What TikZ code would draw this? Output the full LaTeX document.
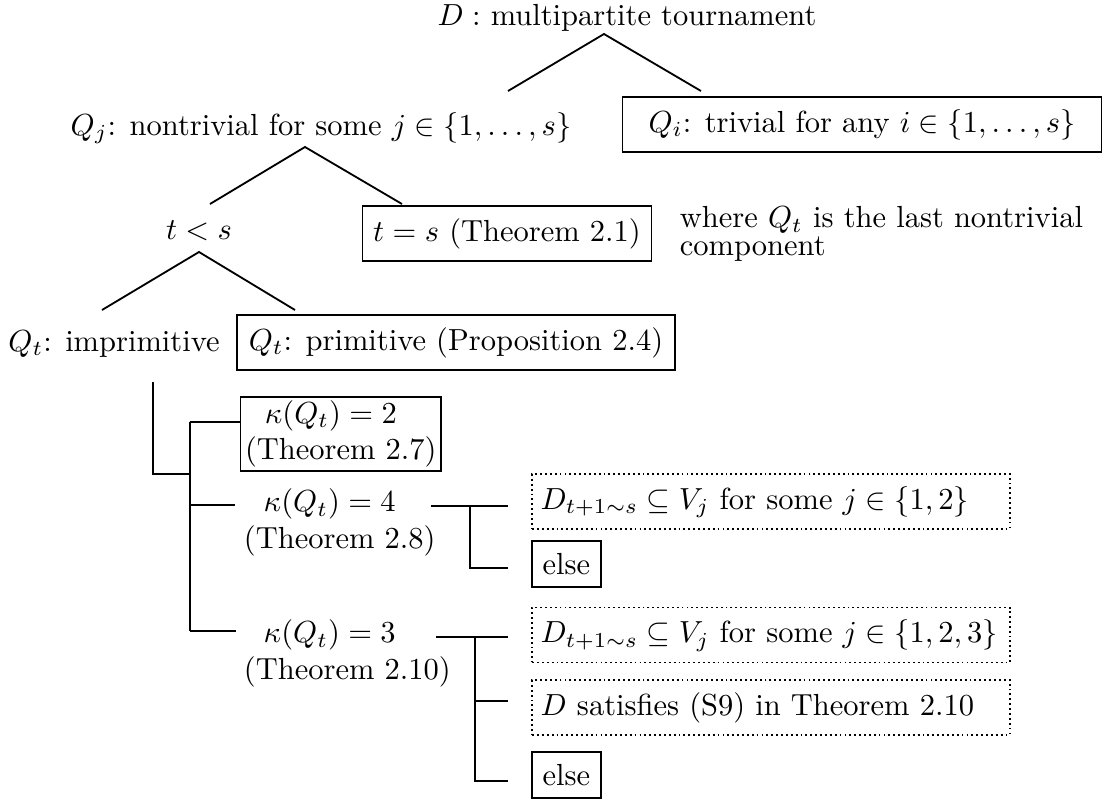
\documentclass[tikz,border=0pt]{standalone}
\usepackage{amsmath,amssymb}
\usepackage{tikz}

\tikzset{
  solidbox/.style={draw, line width=0.6pt, inner xsep=3.5pt, inner ysep=4pt},
  dotbox/.style={draw, densely dotted, line width=0.6pt, text width=151pt, align=left,
    inner xsep=2.8pt, inner ysep=4pt, text height=7.5pt, text depth=2.5pt},
  kbox/.style={align=left, inner xsep=1.5pt, inner ysep=1.2pt},
}

\begin{document}
\begin{tikzpicture}[x=1.1523cm, y=-1.1523cm, line width=0.6pt]
  \useasboundingbox (0,0) rectangle (11.07,8.03);

  % top levels
  \node[anchor=base] (root) at (6.27,0.255) {$D:$ multipartite tournament};
  \node[anchor=base] (nontriv) at (3.21,1.35) {$Q_j$: nontrivial for some $j\in\{1,\ldots,s\}$};
  \node[solidbox, inner xsep=8.5pt] (triv) at (8.62,1.245) {$Q_i$: trivial for any $i\in\{1,\ldots,s\}$};
  \node[anchor=base] (tless) at (1.99,2.39) {$t<s$};
  \node[solidbox] (teq) at (5.07,2.335) {$t=s$ (Theorem 2.1)};
  \node[anchor=north west, inner sep=0pt, align=left] (where) at (6.79,2.055)
    {where $Q_t$ is the last nontrivial\\[-3pt] component};
  \node[anchor=base] (imprim) at (1.14,3.51) {$Q_t$: imprimitive};
  \node[solidbox, inner xsep=3.8pt] (prim) at (4.56,3.425) {$Q_t$: primitive (Proposition 2.4)};

  % tree lines
  \coordinate (r0) at (6.04,0.34);
  \coordinate (r1) at (5.08,0.91);
  \coordinate (r2) at (7.01,0.91);
  \draw (r1) -- (r0) -- (r2);
  \coordinate (n0) at (3.05,1.47);
  \coordinate (n1) at (2.10,2.04);
  \coordinate (n2) at (4.02,2.04);
  \draw (n1) -- (n0) -- (n2);
  \coordinate (t0) at (1.99,2.52);
  \coordinate (t1) at (1.02,3.10);
  \coordinate (t2) at (2.95,3.10);
  \draw (t1) -- (t0) -- (t2);

  % kappa cases
  \node[draw, kbox] (k2) at (3.408,4.339) {\hspace*{6.5pt}$\kappa(Q_t)=2$\\(Theorem 2.7)};
  \node[anchor=north west, inner sep=0pt, align=left] (k4) at (2.43,4.878)
    {\hspace*{6.5pt}$\kappa(Q_t)=4$\\(Theorem 2.8)};
  \node[anchor=north west, inner sep=0pt, align=left] (k3) at (2.43,6.188)
    {\hspace*{6.5pt}$\kappa(Q_t)=3$\\(Theorem 2.10)};

  \coordinate (i0) at (1.527,3.82);
  \coordinate (i1) at (1.90,4.74);
  \coordinate (bt) at (1.90,4.22);
  \coordinate (bm) at (1.90,5.05);
  \coordinate (bb) at (1.90,6.31);
  \draw (i0) |- (i1);
  \draw (bt) -- (bb);
  \draw (bt) -- (bt -| k2.west);
  \draw (bm) -- (2.35,5.05);
  \draw (bb) -- (2.36,6.31);

  % results for kappa = 4
  \node[dotbox] (d1) at (7.71,5.015) {$D_{t+1\sim s}\subseteq V_j$ for some $j\in\{1,2\}$};
  \node[solidbox, anchor=west, inner ysep=4pt] (e1) at (5.31,5.64) {else};
  \coordinate (p0) at (4.31,5.06);
  \coordinate (p1) at (4.70,5.06);
  \coordinate (p2) at (5.08,5.06);
  \coordinate (p3) at (5.08,5.68);
  \draw (p0) -- (p2);
  \draw (p1) |- (p3);

  % results for kappa = 3
  \node[dotbox] (d2) at (7.71,6.35) {$D_{t+1\sim s}\subseteq V_j$ for some $j\in\{1,2,3\}$};
  \node[dotbox] (d3) at (7.71,7.075) {$D$ satisfies (S9) in Theorem 2.10};
  \node[solidbox, anchor=west] (e2) at (5.31,7.75) {else};
  \coordinate (q0) at (4.36,6.37);
  \coordinate (q1) at (4.75,6.37);
  \coordinate (q2) at (5.08,6.37);
  \coordinate (q3) at (5.08,7.01);
  \coordinate (q4) at (5.08,7.81);
  \draw (q0) -- (q2);
  \draw (q1) |- (q4);
  \draw (q3 -| q1) -- (q3);
\end{tikzpicture}
\end{document}
